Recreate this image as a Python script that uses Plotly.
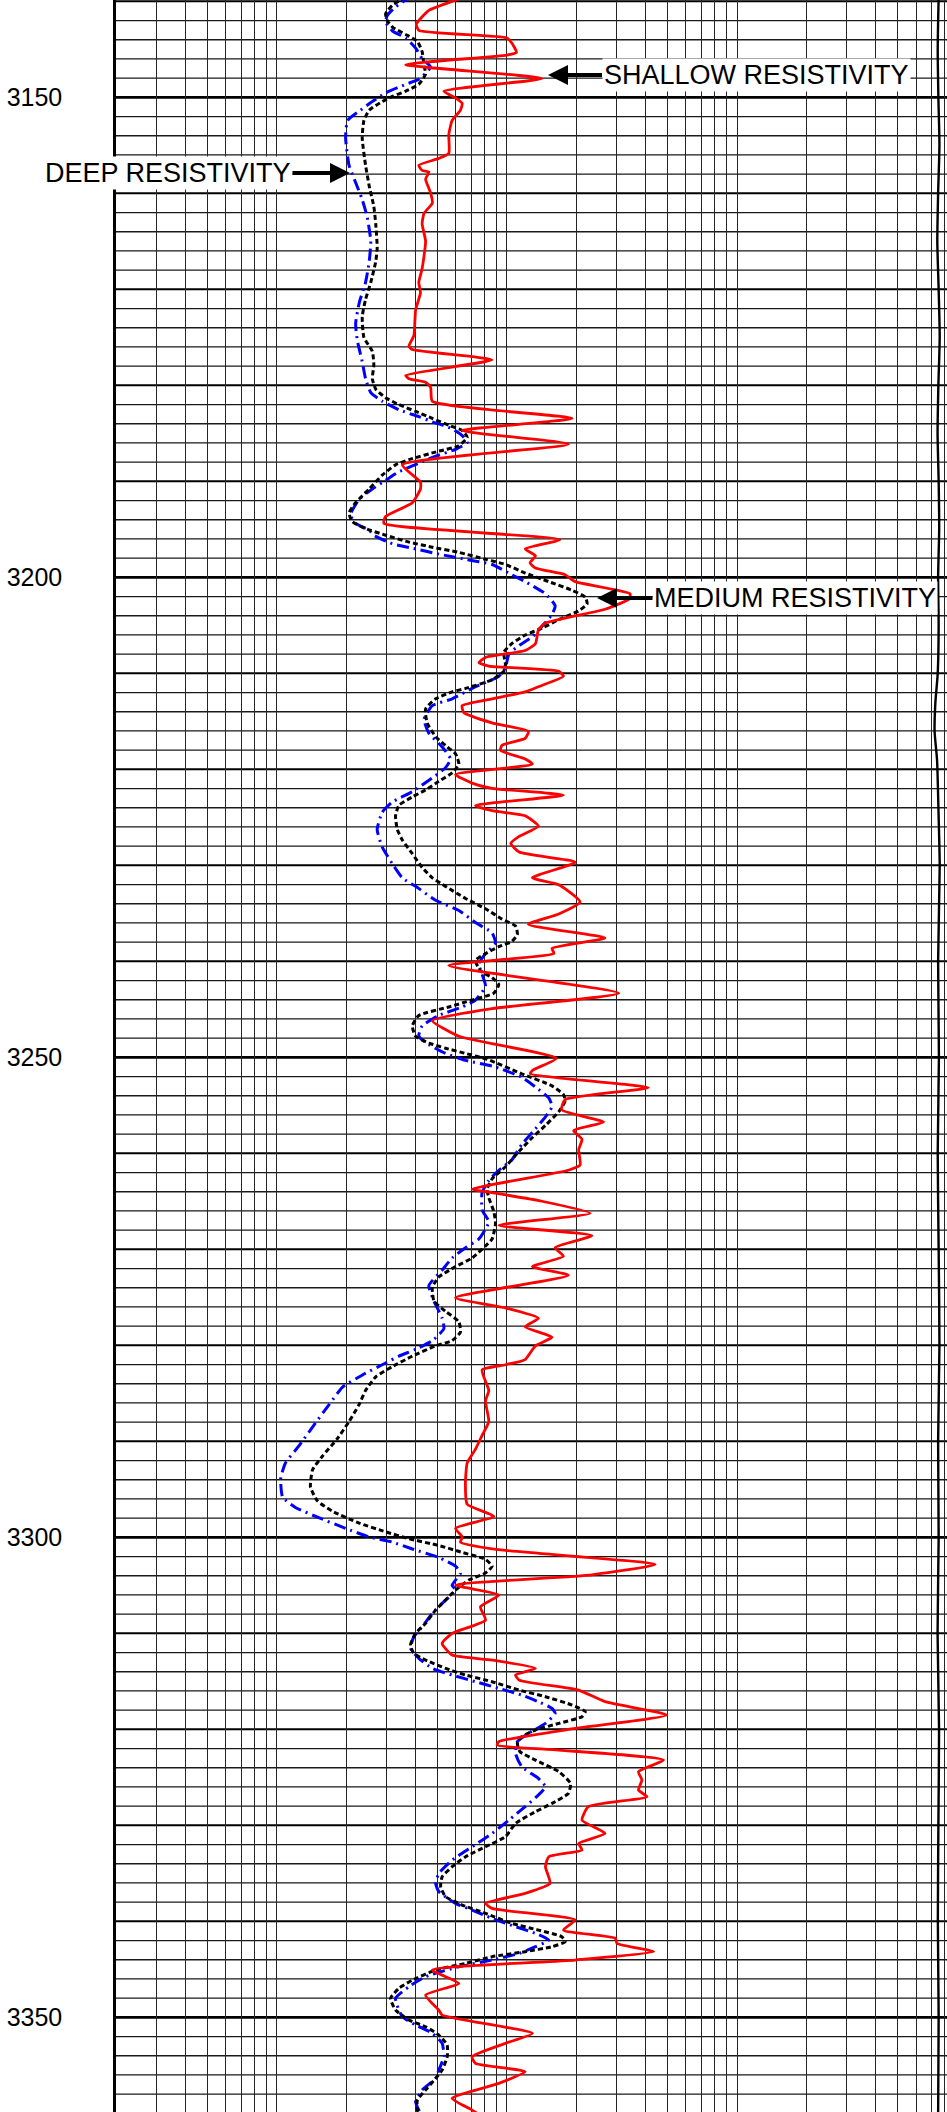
import math
import plotly.graph_objects as go

# --- Depth / resistivity readings (ft, ohm-m)
shallow_depth = [3139.5, 3139.86, 3140.94, 3142.37, 3143.02, 3143.81, 3144.34, 3145.31, 3145.60, 3146.60,
                 3148.04, 3149.36, 3150.08, 3150.62, 3151.34, 3152.41, 3153.85, 3155.82, 3156.36, 3157.08,
                 3157.61, 3157.79, 3158.51, 3159.95, 3161.02, 3162.10, 3163.17, 3164.97, 3167.84, 3169.27,
                 3170.35, 3172.14, 3174.83, 3175.91, 3176.27, 3177.34, 3178.96, 3179.31, 3179.67, 3180.21,
                 3181.65, 3183.44, 3184.70, 3186.13, 3188.28, 3190.08, 3190.79, 3192.23, 3193.66, 3194.38,
                 3196.07, 3197.04, 3197.76, 3198.48, 3199.02, 3199.73, 3200.45, 3201.71, 3202.24, 3203.32,
                 3204.75, 3205.47, 3206.91, 3207.62, 3208.34, 3208.88, 3209.24, 3209.78, 3210.31, 3211.39,
                 3211.93, 3212.65, 3213.36, 3214.08, 3215.16, 3216.05, 3216.77, 3217.49, 3218.03, 3218.92,
                 3219.46, 3220.54, 3221.43, 3221.97, 3222.69, 3223.76, 3224.30, 3224.84, 3225.92, 3226.99,
                 3227.71, 3228.61, 3229.68, 3231.30, 3232.01, 3233.81, 3235.06, 3236.14, 3237.57, 3238.65,
                 3239.19, 3240.44, 3243.31, 3244.93, 3246.18, 3247.80, 3250.10, 3251.36, 3251.71, 3253.15,
                 3254.40, 3255.48, 3256.74, 3257.63, 3258.53, 3259.61, 3261.22, 3261.76, 3263.73, 3264.09,
                 3264.99, 3266.24, 3267.50, 3268.57, 3269.83, 3270.72, 3271.80, 3272.70, 3275.03, 3276.10,
                 3277.18, 3278.08, 3279.15, 3280.05, 3281.48, 3282.02, 3282.56, 3284.71, 3285.79, 3287.94,
                 3289.38, 3290.81, 3292.25, 3294.40, 3296.55, 3297.81, 3299.06, 3299.96, 3300.50, 3301.21,
                 3302.83, 3303.90, 3304.98, 3306.01, 3307.23, 3308.62, 3310.00, 3311.05, 3312.26, 3312.78,
                 3313.65, 3314.34, 3314.87, 3315.91, 3317.12, 3318.51, 3319.90, 3321.29, 3321.64, 3322.16,
                 3323.20, 3324.41, 3325.28, 3326.32, 3327.02, 3328.06, 3329.45, 3330.84, 3331.88, 3332.57,
                 3333.27, 3334.31, 3336.05, 3337.09, 3338.13, 3338.65, 3339.86, 3340.91, 3341.77, 3342.30,
                 3343.16, 3344.03, 3345.07, 3346.46, 3347.68, 3349.24, 3349.76, 3351.67, 3352.71, 3354.10,
                 3354.80, 3355.66, 3356.88, 3358.44, 3359.66, 3360.50]
shallow_res = [6.6, 6.0, 4.58, 4.04, 4.14, 10.0, 10.5, 11.0, 10.0, 3.63,
               14.2, 5.32, 6.0, 6.39, 6.28, 5.78, 5.59, 5.59, 5.06, 4.14,
               4.28, 4.58, 4.43, 4.66, 4.74, 4.36, 4.28, 4.43, 4.28, 4.14,
               4.21, 4.01, 3.94, 3.75, 3.88, 8.62, 3.63, 3.75, 4.43, 4.66,
               4.74, 19.2, 6.39, 18.5, 3.51, 4.21, 4.21, 3.88, 2.97, 2.92,
               17.0, 12.0, 13.3, 12.6, 13.3, 17.9, 19.8, 34.3, 34.0, 26.7,
               14.7, 13.7, 13.3, 12.0, 8.07, 7.55, 8.34, 16.8, 17.6, 13.7,
               12.0, 8.62, 6.39, 6.49, 8.62, 12.4, 12.0, 9.52, 9.37, 12.0,
               12.9, 5.98, 7.06, 8.62, 17.6, 7.3, 8.62, 12.0, 13.7, 11.3,
               10.4, 11.3, 19.8, 12.9, 16.8, 20.8, 16.8, 12.4, 26.7, 15.7,
               16.0, 5.59, 30.6, 8.62, 4.74, 6.18, 16.4, 12.9, 12.65, 41.2,
               17.9, 17.3, 26.3, 19.5, 21.2, 20.5, 20.8, 18.5, 7.06, 8.62,
               14.2, 23.0, 9.22, 23.4, 16.2, 17.6, 12.9, 18.5, 5.98, 9.85,
               13.7, 12.0, 15.7, 13.3, 12.0, 9.85, 7.8, 8.34, 8.07, 8.34,
               7.8, 7.3, 6.72, 6.6, 6.72, 8.77, 5.98, 6.39, 6.28, 8.62,
               44.1, 23.4, 5.98, 9.22, 7.67, 8.07, 5.78, 5.23, 5.78, 8.62,
               13.3, 10.9, 11.3, 20.5, 26.7, 49.5, 19.8, 9.22, 9.07, 16.8,
               47.9, 37.3, 38.6, 37.3, 40.6, 22.6, 21.2, 26.7, 20.5, 21.2,
               15.2, 14.7, 15.4, 12.0, 8.07, 8.62, 19.8, 17.6, 29.6, 30.1,
               43.4, 19.8, 4.74, 6.18, 4.43, 5.06, 5.23, 12.9, 9.85, 7.06,
               7.3, 12.0, 9.22, 5.78, 7.06, 8.0]

medium_depth = [3139.5, 3139.86, 3140.40, 3141.29, 3142.01, 3142.73, 3143.45, 3144.16, 3145.24, 3146.67,
                3147.57, 3148.65, 3149.36, 3149.90, 3150.44, 3151.34, 3152.41, 3154.21, 3157.08, 3159.23,
                3161.38, 3163.17, 3165.68, 3167.12, 3169.27, 3171.06, 3172.86, 3175.01, 3176.45, 3177.88,
                3179.31, 3180.39, 3181.29, 3182.00, 3182.72, 3183.44, 3184.16, 3184.70, 3185.41, 3186.31,
                3186.85, 3187.74, 3188.28, 3189.36, 3190.79, 3192.23, 3193.30, 3194.20, 3194.92, 3195.61,
                3196.33, 3196.86, 3197.40, 3198.12, 3198.66, 3199.55, 3200.45, 3201.35, 3202.06, 3202.78,
                3203.50, 3204.40, 3205.29, 3206.01, 3206.91, 3207.80, 3209.06, 3209.78, 3210.67, 3211.57,
                3211.93, 3212.65, 3213.72, 3215.16, 3216.59, 3217.67, 3218.38, 3219.46, 3220.36, 3221.25,
                3222.15, 3222.87, 3223.76, 3224.84, 3226.28, 3227.35, 3228.79, 3230.22, 3231.30, 3232.19,
                3233.45, 3234.52, 3235.60, 3236.32, 3237.21, 3237.93, 3238.47, 3239.19, 3239.91, 3240.98,
                3241.70, 3242.42, 3243.31, 3244.03, 3244.75, 3245.64, 3246.72, 3247.80, 3248.51, 3249.05,
                3249.59, 3250.20, 3251.71, 3252.97, 3253.87, 3254.58, 3255.66, 3257.09, 3258.35, 3259.78,
                3261.40, 3262.65, 3263.73, 3264.63, 3266.06, 3267.32, 3268.93, 3269.65, 3270.90, 3271.80,
                3272.88, 3273.95, 3275.39, 3276.46, 3277.54, 3278.62, 3279.51, 3280.05, 3281.13, 3282.20,
                3283.28, 3284.71, 3286.15, 3287.94, 3289.73, 3291.53, 3292.96, 3294.76, 3296.19, 3297.27,
                3298.52, 3299.42, 3300.14, 3300.85, 3301.57, 3302.29, 3303.01, 3303.72, 3304.44, 3305.49,
                3306.53, 3307.57, 3308.96, 3310.00, 3311.22, 3312.09, 3312.78, 3313.65, 3314.34, 3315.04,
                3315.91, 3316.60, 3317.47, 3318.16, 3318.68, 3319.38, 3320.07, 3320.77, 3321.46, 3322.33,
                3323.20, 3324.41, 3325.63, 3326.67, 3327.71, 3328.58, 3329.80, 3331.18, 3332.23, 3333.27,
                3334.31, 3335.35, 3336.39, 3337.43, 3338.30, 3339.17, 3340.21, 3340.91, 3341.60, 3342.12,
                3342.64, 3343.16, 3343.68, 3344.38, 3345.07, 3346.12, 3346.98, 3348.02, 3349.24, 3350.28,
                3350.98, 3351.84, 3352.89, 3354.10, 3355.49, 3356.36, 3357.57, 3358.61, 3359.66, 3360.50]
medium_res = [3.6, 3.45, 3.18, 2.97, 3.02, 3.2, 3.63, 4.08, 4.28, 4.36,
              4.43, 4.14, 3.63, 3.18, 2.87, 2.52, 2.39, 2.35, 2.43, 2.52,
              2.64, 2.69, 2.73, 2.69, 2.56, 2.43, 2.35, 2.39, 2.60, 2.64,
              2.60, 2.69, 2.97, 3.39, 4.01, 4.74, 5.59, 6.39, 6.72, 6.18,
              5.06, 3.75, 3.28, 2.87, 2.52, 2.20, 2.06, 2.13, 2.43, 2.97,
              3.75, 4.74, 6.18, 8.07, 9.85, 12.0, 15.2, 19.2, 21.9, 22.3,
              20.5, 16.8, 14.2, 12.0, 10.5, 9.69, 9.85, 9.69, 8.62, 6.61,
              5.78, 4.90, 4.43, 4.50, 4.90, 5.50, 5.98, 6.18, 5.78, 5.06,
              4.43, 3.88, 3.39, 3.28, 3.34, 3.51, 3.88, 4.28, 4.74, 5.41,
              6.61, 8.07, 9.52, 10.9, 11.1, 10.5, 9.22, 8.07, 7.3, 7.67,
              8.62, 9.22, 8.77, 7.06, 5.59, 4.14, 3.88, 4.01, 4.58, 5.41,
              6.61, 8.2, 11.6, 15.7, 17.6, 17.9, 16.8, 14.7, 12.9, 11.3,
              9.85, 8.62, 8.20, 8.34, 8.77, 8.92, 8.62, 8.07, 7.06, 5.98,
              5.06, 4.74, 4.82, 5.41, 6.18, 6.28, 5.78, 4.90, 3.88, 3.18,
              2.69, 2.43, 2.28, 2.06, 1.83, 1.58, 1.43, 1.40, 1.50, 1.74,
              2.28, 2.97, 3.75, 5.06, 6.39, 8.07, 8.62, 8.07, 6.83, 5.98,
              5.41, 4.90, 4.43, 4.01, 3.81, 3.94, 4.43, 5.41, 6.61, 8.62,
              11.3, 14.7, 19.2, 21.9, 21.2, 16.8, 13.3, 11.6, 11.1, 11.4,
              13.3, 16.8, 18.9, 18.5, 15.7, 13.3, 10.9, 9.85, 8.07, 6.61,
              5.78, 5.23, 5.15, 5.41, 6.39, 8.07, 10.5, 13.7, 17.3, 17.9,
              15.7, 12.0, 8.62, 6.61, 4.90, 3.88, 3.39, 3.12, 3.28, 3.75,
              4.43, 5.06, 5.50, 5.50, 5.23, 4.90, 4.43, 4.08, 4.08, 4.2]

deep_depth = [3139.5, 3139.86, 3140.58, 3141.47, 3142.19, 3143.09, 3143.81, 3144.88, 3145.96, 3146.85,
              3148.11, 3148.65, 3149.54, 3150.44, 3151.34, 3152.41, 3154.21, 3157.08, 3158.87, 3160.66,
              3162.46, 3164.97, 3167.12, 3169.27, 3171.42, 3173.58, 3175.37, 3177.52, 3179.31, 3180.75,
              3181.65, 3182.54, 3183.26, 3183.80, 3184.52, 3185.23, 3185.95, 3186.67, 3187.38, 3188.10,
              3189.00, 3189.90, 3190.79, 3191.87, 3193.48, 3194.38, 3195.10, 3195.61, 3196.50, 3197.04,
              3197.58, 3198.12, 3198.66, 3199.73, 3200.45, 3201.71, 3202.96, 3203.86, 3205.11, 3206.19,
              3207.09, 3207.98, 3209.42, 3210.31, 3211.39, 3212.65, 3213.36, 3214.80, 3216.23, 3217.67,
              3218.92, 3219.82, 3220.89, 3222.33, 3223.40, 3224.48, 3226.28, 3228.07, 3229.86, 3231.30,
              3232.19, 3233.63, 3234.70, 3235.96, 3237.03, 3238.11, 3239.19, 3240.26, 3241.34, 3242.59,
              3244.03, 3244.75, 3245.64, 3246.72, 3247.80, 3248.69, 3249.59, 3250.31, 3251.00, 3252.07,
              3253.33, 3254.23, 3255.12, 3256.20, 3257.45, 3259.07, 3260.68, 3261.76, 3262.83, 3264.09,
              3265.88, 3267.14, 3268.93, 3269.83, 3270.90, 3272.16, 3273.77, 3275.39, 3277.18, 3278.26,
              3279.51, 3280.41, 3281.13, 3282.02, 3283.10, 3284.35, 3286.15, 3288.30, 3290.45, 3292.25,
              3293.86, 3295.83, 3296.91, 3297.98, 3299.06, 3299.96, 3300.50, 3301.21, 3302.11, 3303.01,
              3303.72, 3304.98, 3305.49, 3306.88, 3307.92, 3309.31, 3310.35, 3311.57, 3312.61, 3313.65,
              3314.34, 3315.04, 3315.73, 3316.43, 3317.12, 3317.82, 3318.34, 3319.38, 3320.42, 3321.29,
              3322.50, 3323.89, 3325.11, 3325.98, 3326.84, 3328.06, 3329.45, 3330.84, 3332.23, 3333.62,
              3335.01, 3336.05, 3336.91, 3338.13, 3338.82, 3339.69, 3340.56, 3341.25, 3341.95, 3342.64,
              3343.34, 3344.03, 3344.73, 3345.77, 3346.81, 3348.02, 3349.93, 3350.80, 3351.67, 3352.71,
              3354.10, 3355.49, 3356.36, 3357.57, 3358.79, 3359.66, 3360.50]
deep_res = [3.9, 3.63, 3.28, 3.02, 2.97, 3.18, 3.63, 4.01, 4.28, 4.66,
            4.14, 3.63, 2.97, 2.60, 2.31, 2.03, 1.99, 2.06, 2.20, 2.35,
            2.47, 2.56, 2.52, 2.43, 2.28, 2.20, 2.24, 2.35, 2.43, 2.56,
            2.87, 3.39, 4.14, 4.74, 5.78, 6.39, 6.72, 5.98, 4.90, 4.14,
            3.39, 2.97, 2.60, 2.28, 2.09, 2.20, 2.52, 2.64, 3.18, 4.01,
            5.06, 6.61, 8.62, 10.5, 12.0, 14.7, 16.2, 15.7, 14.2, 12.9,
            11.3, 10.2, 9.85, 9.22, 7.3, 5.78, 4.74, 4.36, 4.58, 5.23,
            5.69, 5.41, 4.74, 3.88, 3.18, 2.87, 2.73, 2.87, 3.18, 3.51,
            4.01, 4.90, 6.18, 7.3, 8.62, 8.92, 8.07, 7.55, 7.80, 8.07,
            7.3, 6.39, 5.06, 4.28, 4.14, 4.58, 5.41, 6.61, 8.9, 11.6,
            13.7, 15.2, 15.7, 14.7, 13.3, 11.6, 10.5, 9.22, 8.34, 7.80,
            7.80, 8.34, 7.55, 6.61, 5.78, 5.23, 4.58, 4.82, 5.23, 5.32,
            4.74, 4.01, 3.39, 2.87, 2.35, 1.93, 1.69, 1.45, 1.25, 1.09,
            1.04, 1.06, 1.21, 1.53, 1.99, 2.52, 3.18, 3.88, 5.06, 5.98,
            6.28, 5.78, 5.98, 5.23, 4.74, 4.28, 3.94, 3.81, 4.14, 4.74,
            5.78, 7.3, 9.22, 11.6, 13.7, 15.7, 16.2, 14.7, 12.4, 11.1,
            10.9, 11.6, 13.7, 14.7, 13.7, 12.0, 10.2, 8.62, 7.06, 5.78,
            5.06, 4.90, 5.06, 5.98, 7.06, 8.62, 10.9, 13.3, 15.2, 13.3,
            11.3, 8.62, 6.18, 4.43, 3.75, 3.28, 3.51, 4.01, 4.74, 5.23,
            5.32, 5.06, 4.90, 4.28, 4.01, 4.14, 4.3]

# wavy trace along the right edge of the track
edge_depth = [3139.5, 3145, 3150, 3155, 3160, 3165, 3170, 3175, 3180, 3185, 3190, 3195, 3200, 3205,
              3210, 3213, 3216, 3219, 3225, 3230, 3240, 3250, 3260, 3270, 3280, 3290, 3300, 3310,
              3320, 3330, 3340, 3350, 3360.5]
edge_res = [752, 745, 750, 758, 748, 742, 752, 760, 750, 744, 752, 756, 748, 752,
            745, 728, 722, 740, 752, 760, 748, 754, 745, 752, 758, 748, 752, 744,
            755, 750, 746, 752, 748]

depth_labels = [3150, 3200, 3250, 3300, 3350]
curve_labels = ["SHALLOW RESISTIVITY", "DEEP RESISTIVITY", "MEDIUM RESISTIVITY"]

FONT = "Liberation Sans, Arial, sans-serif"
W, H = 947, 2112
LEFT = 116
DEPTH_TOP, DEPTH_BOT = 3139.86, 3359.86
X_LO = math.log10(0.2)
X_HI = X_LO + (W - LEFT) / 230.1

fig = go.Figure()

# --- Curves (deep under medium under shallow)
fig.add_trace(go.Scatter(
    x=deep_res, y=deep_depth, mode="lines", name="Deep",
    line=dict(color="#0000ff", width=3, dash="12px,5px,2px,5px", shape="spline", smoothing=0.5)
))
fig.add_trace(go.Scatter(
    x=medium_res, y=medium_depth, mode="lines", name="Medium",
    line=dict(color="#000000", width=3, dash="5px,3px", shape="spline", smoothing=0.5)
))
fig.add_trace(go.Scatter(
    x=shallow_res, y=shallow_depth, mode="lines", name="Shallow",
    line=dict(color="#ff0000", width=2.8, shape="spline", smoothing=0.5)
))
fig.add_trace(go.Scatter(
    x=edge_res, y=edge_depth, mode="lines", name="Edge",
    line=dict(color="#000000", width=2.4, shape="spline", smoothing=0.6)
))

# --- Depth grid: 2 ft minor, 10 ft medium, 50 ft heavy
for d in range(3140, 3362, 2):
    if d % 50 == 0:
        w, c = 2.8, "#000000"
    elif d % 10 == 0:
        w, c = 2.0, "#000000"
    else:
        w, c = 1.3, "#1a1a1a"
    fig.add_shape(type="line", xref="paper", x0=0, x1=1, yref="y", y0=d, y1=d,
                  line=dict(color=c, width=w), layer="below")

# --- Log grid lines
grid_x = [m * 10 ** e for e in range(-1, 3) for m in range(1, 10)]

# --- Curve labels with arrows
arrow_specs = [
    # label, tip x (paper), tip y (paper), ax, ay
    (curve_labels[0], (548 - LEFT) / (W - LEFT), 1 - 75 / H, 208, 0),
    (curve_labels[1], (350 - LEFT) / (W - LEFT), 1 - 173 / H, -182, 0),
    (curve_labels[2], (597 - LEFT) / (W - LEFT), 1 - 598 / H, 198, 0),
]
for text, tx, ty, ax, ay in arrow_specs:
    fig.add_annotation(
        text=text, xref="paper", yref="paper", x=tx, y=ty,
        ax=ax, ay=ay, showarrow=True, arrowhead=2, arrowsize=1,
        arrowwidth=4, arrowcolor="black", standoff=0,
        bgcolor="white", borderpad=1,
        font=dict(family=FONT, size=27, color="black")
    )

fig.update_xaxes(
    type="log", range=[X_LO, X_HI], tickvals=grid_x, showticklabels=False,
    ticks="", showgrid=True, gridcolor="#262626", gridwidth=1.3,
    zeroline=False, showline=False, automargin=False
)
fig.update_yaxes(
    range=[DEPTH_BOT, DEPTH_TOP], tickvals=depth_labels, ticks="",
    showgrid=False, zeroline=False, showline=True, linecolor="black", linewidth=2.5,
    tickfont=dict(family=FONT, size=25, color="black"), ticklabelstandoff=46,
    automargin=False
)
fig.update_layout(
    width=W, height=H, margin=dict(l=LEFT, r=0, t=0, b=0, autoexpand=False),
    paper_bgcolor="white", plot_bgcolor="white", showlegend=False
)

# page body margin off so the figure sits flush with the window
fig.write_html("out.html", config={"displayModeBar": False},
               post_script="document.body.style.margin='0';")
